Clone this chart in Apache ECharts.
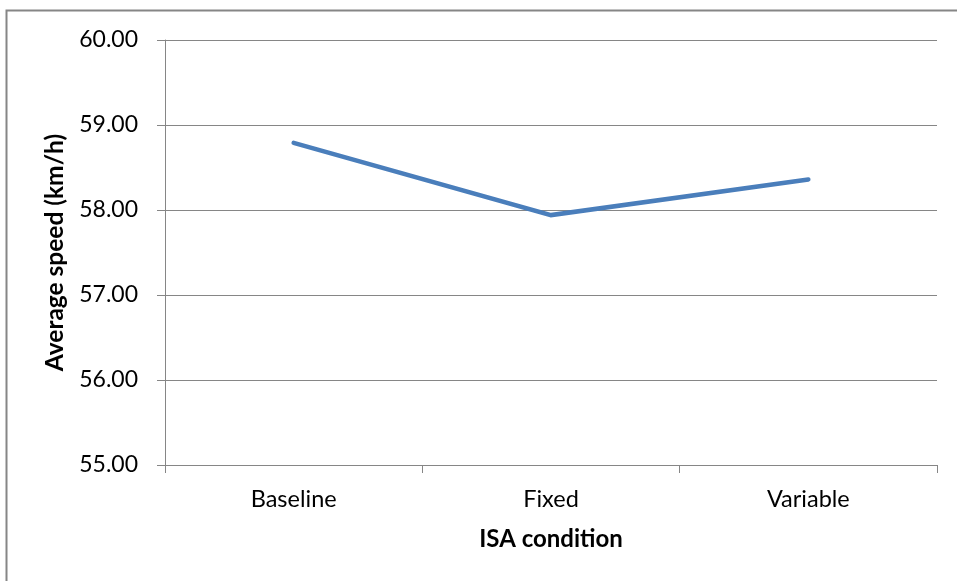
<!DOCTYPE html>
<html>
<head>
<meta charset="utf-8">
<script src="https://cdn.jsdelivr.net/npm/echarts@6/dist/echarts.min.js"></script>
<style>
html,body{margin:0;padding:0;background:#fff;}
#chart{width:957px;height:581px;}
</style>
</head>
<body>
<div id="chart"></div>
<script>
const categories = ['Baseline', 'Fixed', 'Variable'];
const speedValues = [58.79, 57.94, 58.36];
const yMin = 55;
const yMax = 60;
const yStep = 1;
const xTitle = 'ISA condition';
const yTitle = 'Average speed (km/h)';

const FONT = 'Lato, "Open Sans", sans-serif';
const GRAY = '#868686';

const chart = echarts.init(document.getElementById('chart'), null, {renderer: 'canvas'});
chart.setOption({
  backgroundColor: '#ffffff',
  animation: false,
  graphic: [{
    type: 'rect',
    shape: {x: 6.5, y: 10.5, width: 960, height: 600},
    style: {fill: 'none', stroke: GRAY, lineWidth: 2},
    silent: true,
    z: -1
  }],
  grid: {left: 165, right: 20, top: 40, bottom: 116, containLabel: false},
  xAxis: {
    type: 'category',
    data: categories,
    boundaryGap: true,
    name: xTitle,
    nameLocation: 'middle',
    nameGap: 62,
    nameTextStyle: {fontFamily: FONT, fontSize: 24, fontWeight: 'bold', color: '#000'},
    axisLine: {show: true, lineStyle: {color: GRAY, width: 1}},
    axisTick: {show: true, length: 8, alignWithLabel: false, lineStyle: {color: GRAY, width: 1}},
    axisLabel: {fontFamily: FONT, fontSize: 23.5, color: '#000', margin: 22},
    splitLine: {show: false}
  },
  yAxis: {
    type: 'value',
    min: yMin,
    max: yMax,
    interval: yStep,
    name: yTitle,
    nameLocation: 'middle',
    nameGap: 97,
    nameRotate: 90,
    nameTextStyle: {fontFamily: FONT, fontSize: 24.5, fontWeight: 'bold', color: '#000'},
    axisLine: {show: true, lineStyle: {color: GRAY, width: 1}},
    axisTick: {show: true, length: 8, lineStyle: {color: GRAY, width: 1}},
    axisLabel: {fontFamily: FONT, fontSize: 23, color: '#000', margin: 27,
      formatter: v => v.toFixed(2)},
    splitLine: {show: true, lineStyle: {color: GRAY, width: 1}}
  },
  series: [{
    type: 'line',
    data: speedValues,
    symbol: 'none',
    smooth: false,
    lineStyle: {color: '#4a7ebb', width: 4.5, cap: 'round', join: 'miter'}
  }]
});
</script>
</body>
</html>
